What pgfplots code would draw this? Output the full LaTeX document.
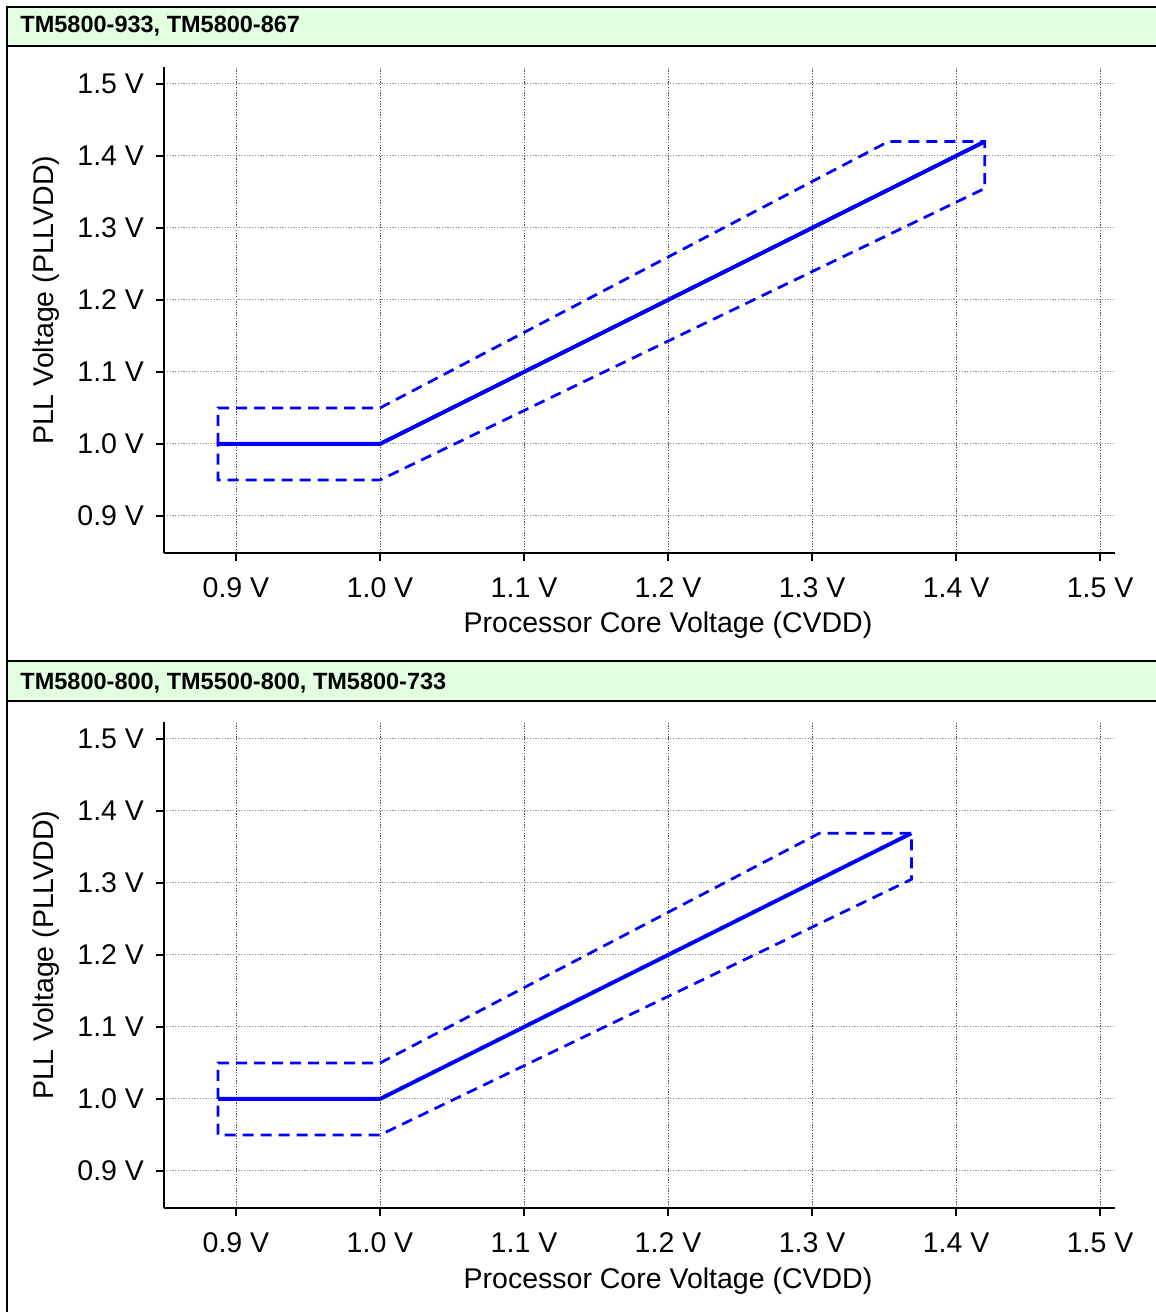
\documentclass[border=0pt]{standalone}
\usepackage{fontspec}
\setmainfont{Liberation Sans}
\usepackage{pgfplots}
\pgfplotsset{compat=1.18}

\definecolor{hdrgreen}{RGB}{226,255,226}
\definecolor{gridh}{RGB}{150,150,150}
\definecolor{gridv}{RGB}{80,80,80}
\definecolor{plotblue}{RGB}{0,0,255}

% one panel: PLL voltage against core voltage
\pgfplotsset{pllpanel/.style={
    scale only axis, width=380.4pt, height=194.4pt,
    xmin=0.85, xmax=1.5104, ymin=0.8486, ymax=1.5236,
    axis x line*=bottom, axis y line*=left,
    axis line style={line width=0.8pt, -},
    tick align=outside, major tick length=3.2pt,
    tick style={line width=0.6pt, black},
    xtick={0.9,1.0,1.1,1.2,1.3,1.4,1.5},
    xticklabels={0.9 V,1.0 V,1.1 V,1.2 V,1.3 V,1.4 V,1.5 V},
    ytick={0.9,1.0,1.1,1.2,1.3,1.4,1.5},
    yticklabels={0.9 V,1.0 V,1.1 V,1.2 V,1.3 V,1.4 V,1.5 V},
    xticklabel style={anchor=base, yshift=-14.6pt},
    yticklabel style={anchor=east, inner sep=0pt, xshift=-4.6pt},
    grid=major,
    x grid style={gridv, line width=0.4pt, dash pattern=on 0.5pt off 0.6pt},
    y grid style={gridh, line width=0.4pt, dash pattern=on 0.5pt off 0.6pt},
    font=\fontsize{11.4}{13}\selectfont,
    xlabel={Processor Core Voltage (CVDD)},
    ylabel={PLL Voltage (PLLVDD)},
    x label style={at={(axis description cs:0.53,0)}, anchor=base, inner sep=0pt, yshift=-32pt},
    y label style={at={(axis description cs:-0.124,0.52)}, anchor=center, rotate=0},
    clip=false,
}}

\begin{document}
\begin{tikzpicture}
\useasboundingbox (0,0) rectangle (462.4pt,524.8pt);

% header bars and frame
\fill[hdrgreen] (2.8pt,522pt) rectangle (470pt,506.4pt);
\fill[hdrgreen] (2.8pt,260.4pt) rectangle (470pt,244.4pt);
\draw[line width=1.1pt] (470pt,522pt) -- (2.8pt,522pt) -- (2.8pt,-5pt);
\draw[line width=1.1pt] (2.8pt,506.4pt) -- (470pt,506.4pt);
\draw[line width=1.1pt] (2.8pt,260.4pt) -- (470pt,260.4pt);
\draw[line width=1.1pt] (2.8pt,244.4pt) -- (470pt,244.4pt);
\node[anchor=base west, inner sep=0pt, font=\fontsize{9.4}{11}\selectfont\bfseries]
  at (8pt,511.6pt) {TM5800-933, TM5800-867};
\node[anchor=base west, inner sep=0pt, font=\fontsize{9.4}{11}\selectfont\bfseries]
  at (8pt,249pt) {TM5800-800, TM5500-800, TM5800-733};

% upper panel
\begin{axis}[pllpanel, at={(65.6pt,303.6pt)}, anchor=south west]
\addplot[plotblue, line width=1.6pt] coordinates {
  (0.8875,1.0) (1.0,1.0) (1.42,1.42)
};
\addplot[plotblue, line width=1.1pt, dash pattern=on 4.4pt off 2.8pt] coordinates {
  (0.8875,1.0) (0.8875,1.05) (1.0,1.05) (1.353,1.42) (1.42,1.42)
  (1.42,1.355) (1.0,0.95) (0.8875,0.95) (0.8875,1.0)
};
\end{axis}

% lower panel
\begin{axis}[pllpanel, at={(65.6pt,41.6pt)}, anchor=south west]
\addplot[plotblue, line width=1.6pt] coordinates {
  (0.8875,1.0) (1.0,1.0) (1.369,1.369)
};
\addplot[plotblue, line width=1.1pt, dash pattern=on 4.4pt off 2.8pt] coordinates {
  (0.8875,1.0) (0.8875,1.05) (1.0,1.05) (1.305,1.369) (1.369,1.369)
  (1.369,1.305) (1.0,0.95) (0.8875,0.95) (0.8875,1.0)
};
\end{axis}
\end{tikzpicture}
\end{document}
